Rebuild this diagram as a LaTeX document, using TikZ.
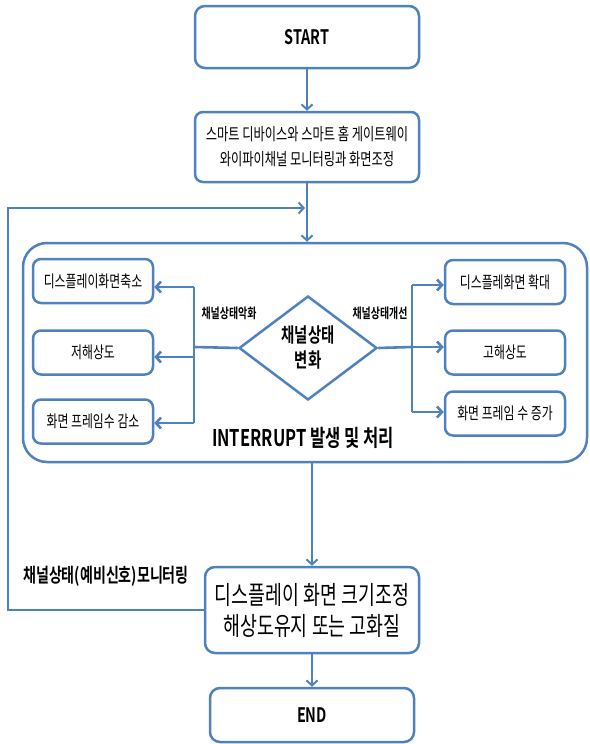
\documentclass[tikz,border=0pt]{standalone}
\usepackage{fontspec}
\setmainfont{Noto Sans CJK KR}[FakeStretch=0.72,BoldFont={Noto Sans CJK KR Bold}]
\usepackage{tikz}
\usetikzlibrary{shapes.geometric,arrows.meta}
\definecolor{flowblue}{RGB}{79,129,189}

\begin{document}
\begin{tikzpicture}[x=1pt,y=-1pt,
  >={Straight Barb[length=5pt,width=11pt]},
  box/.style={draw=flowblue,line width=2.5pt,rounded corners=8pt,fill=white,align=center,inner sep=0pt},
  small/.style={box,minimum width=120pt,minimum height=44pt,font=\fontsize{16.5}{19}\selectfont},
  flow/.style={flowblue,line width=2pt},
  branch/.style={flowblue,line width=2.6pt}]
\useasboundingbox (0,0) rectangle (589,744);

\node [box,rounded corners=10pt,minimum width=224pt,minimum height=62pt,font=\bfseries\fontsize{20}{23}\selectfont] (start) at (307,37) {START};
\node [box,minimum width=224pt,minimum height=70pt,font=\fontsize{17}{25}\selectfont] (smart) at (307,147) {스마트 디바이스와 스마트 홈 게이트웨이\\와이파이채널 모니터링과 화면조정};

\node [draw=flowblue,line width=2.5pt,rounded corners=24pt,minimum width=564pt,minimum height=219pt] (intr) at (305,352.5) {};
\node [font=\bfseries\fontsize{23}{26}\selectfont] (intrtxt) at (303,438) {INTERRUPT 발생 및 처리};

\node [draw=flowblue,line width=2.5pt,diamond,inner sep=0pt,minimum width=138pt,minimum height=104pt,align=center,font=\bfseries\fontsize{20}{25}\selectfont] (dia) at (308,348) {채널상태\\변화};

\node [small] (lb1) at (93,281) {디스플레이화면축소};
\node [small] (lb2) at (93,352.5) {저해상도};
\node [small] (lb3) at (93,421.5) {화면 프레임수 감소};
\node [small] (rb1) at (505,282) {디스플레화면 확대};
\node [small] (rb2) at (505,352.5) {고해상도};
\node [small] (rb3) at (505,413.5) {화면 프레임 수 증가};

\node [font=\bfseries\fontsize{13.8}{16}\selectfont] (worse) at (229,313) {채널상태악화};
\node [font=\bfseries\fontsize{13.8}{16}\selectfont] (better) at (380,313) {채널상태개선};

\node [box,rounded corners=10pt,minimum width=214pt,minimum height=86pt,font=\fontsize{25.5}{31}\selectfont] (disp) at (312,610) {디스플레이 화면 크기조정\\해상도유지 또는 고화질};
\node [box,rounded corners=10pt,minimum width=204pt,minimum height=54pt,font=\bfseries\fontsize{20}{23}\selectfont] (end) at (312,715) {END};

\node [font=\bfseries\fontsize{19.5}{22}\selectfont] (mon) at (106,576) {채널상태(예비신호)모니터링};

\coordinate (ld) at (194,347);
\coordinate (lt) at (194,287);
\coordinate (lm) at (194,357);
\coordinate (lb) at (194,423);
\coordinate (rd) at (412,347);
\coordinate (rt) at (412,285);
\coordinate (rb) at (412,412);
\coordinate (lp) at (8,610);
\coordinate (loopend) at (305,208);

\draw [flow,->] (start) -- (smart);
\draw [flow,->] (smart) -- (smart |- intr.north);
\draw [flow,->] (disp.north |- intr.south) -- (disp);
\draw [flow,->] (disp) -- (end);
\draw [flow,->] (disp.west) -- (lp) |- (loopend);

\draw [branch] (dia.west) -- (ld);
\draw [branch] (lt) -- (lb);
\draw [branch,->] (lt) -- (lt -| lb1.east);
\draw [branch,->] (lm) -- (lm -| lb2.east);
\draw [branch,->] (lb) -- (lb -| lb3.east);

\draw [branch] (dia.east) -- (rd);
\draw [branch] (rt) -- (rb);
\draw [branch,->] (rt) -- (rt -| rb1.west);
\draw [branch,->] (rd) -- (rd -| rb2.west);
\draw [branch,->] (rb) -- (rb -| rb3.west);

\end{tikzpicture}
\end{document}
